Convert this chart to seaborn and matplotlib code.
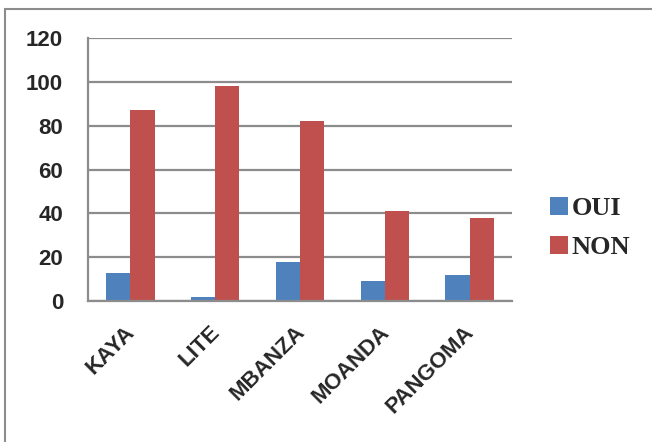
import matplotlib
matplotlib.use("Agg")
import matplotlib.pyplot as plt
import matplotlib.transforms as mtrans
import seaborn as sns
import pandas as pd
from matplotlib.lines import Line2D

categories = ["KAYA", "LITE", "MBANZA", "MOANDA", "PANGOMA"]
oui = [13, 2, 18, 9, 12]
non = [87, 98, 82, 41, 38]
series = ["OUI", "NON"]
colors = ["#4F81BD", "#C0504D"]
yticks = [0, 20, 40, 60, 80, 100, 120]

df = pd.DataFrame({
    "cat": categories * 2,
    "val": oui + non,
    "serie": ["OUI"] * len(categories) + ["NON"] * len(categories),
})

sns.set_style("white")
plt.rcParams["font.family"] = ["Liberation Sans", "DejaVu Sans"]

fig = plt.figure(figsize=(6.52, 4.42), dpi=100)
ax = fig.add_axes([88 / 652, 1 - 301 / 442, (512 - 88) / 652, (301 - 38) / 442])

sns.barplot(data=df, x="cat", y="val", hue="serie", hue_order=series,
            palette=colors, saturation=1, width=0.572, gap=0, ax=ax, legend=True,
            edgecolor="none", linewidth=0)

ax.set_xlim(-0.5, len(categories) - 0.5)
ax.set_ylim(0, 120)
ax.set_yticks(yticks)
ax.yaxis.grid(True, color="#8c8c8c", linewidth=1.6)
ax.set_axisbelow(True)
for s in ["top", "right"]:
    ax.spines[s].set_visible(False)
for s in ["left", "bottom"]:
    ax.spines[s].set_color("#8c8c8c")
    ax.spines[s].set_linewidth(1.6)

ax.set_xlabel("")
ax.set_ylabel("")
ax.tick_params(axis="y", length=7, width=1.6, color="#8c8c8c", pad=11,
               labelsize=16)
for lab in ax.get_yticklabels():
    lab.set_fontweight("bold")

ax.set_xticks(range(len(categories)))
ax.set_xticklabels(categories, rotation=45, ha="right",
                   rotation_mode="anchor", fontsize=16, fontweight="bold")
ax.tick_params(axis="x", which="major", length=0, pad=15)
offset = mtrans.ScaledTranslation(-6 / 100, 0, fig.dpi_scale_trans)
for lab in ax.get_xticklabels():
    lab.set_transform(lab.get_transform() + offset)
ax.set_xticks([i - 0.5 for i in range(len(categories) + 1)], minor=True)
ax.tick_params(axis="x", which="minor", length=8, width=1.6, color="#8c8c8c")

handles, labels = ax.get_legend_handles_labels()
ax.legend(handles, labels, loc="center left", bbox_to_anchor=(550 / 652, 1 - 228 / 442),
          bbox_transform=fig.transFigure, frameon=False,
          prop={"family": "Liberation Serif", "weight": "bold", "size": 19},
          handlelength=0.7, handleheight=0.7, handletextpad=0.12,
          labelspacing=0.6, borderaxespad=0, borderpad=0)

# outer frame (partial, like the cropped screenshot)
fig.add_artist(Line2D([5 / 652, 5 / 652], [0, 1 - 9 / 442], transform=fig.transFigure,
                      color="#8c8c8c", linewidth=1.5))
fig.add_artist(Line2D([5 / 652, 1], [1 - 9 / 442, 1 - 9 / 442], transform=fig.transFigure,
                      color="#8c8c8c", linewidth=1.5))

fig.savefig("out.png", dpi=100)
